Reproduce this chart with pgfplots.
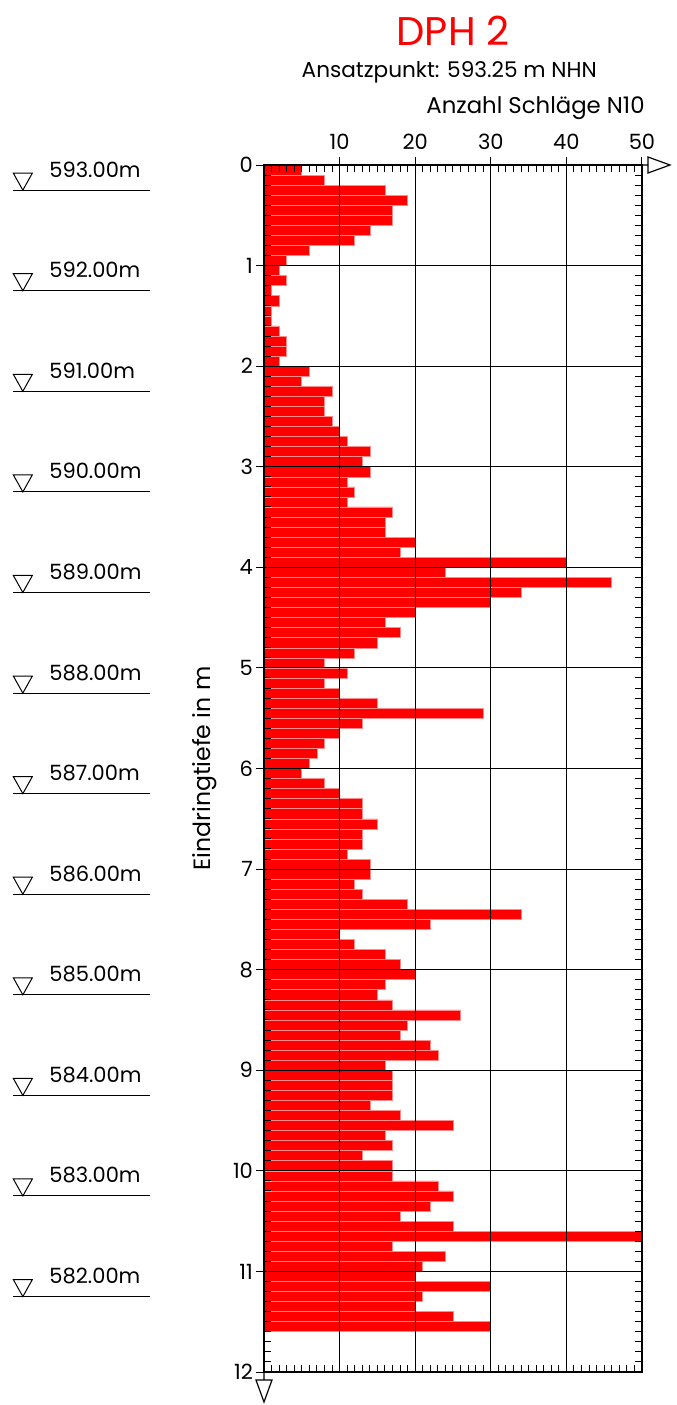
\documentclass[border=0pt]{standalone}
\usepackage{fontspec}
\setmainfont{Poppins}
\usepackage{pgfplots}
\pgfplotsset{compat=1.18}
\newcommand{\lblfont}{\fontsize{10.5}{12}\selectfont}
\newcommand{\elev}[2]{%
  \draw[black, line width=0.5pt] (axis cs:-33.16,#1) -- (axis cs:-15.08,#1);
  \draw[black, line width=0.5pt] (axis cs:-31.9,#1) -- ++(-4.75pt,8.5pt) -- ++(9.5pt,0pt) -- cycle;
  \node[anchor=base west, inner sep=0pt, font=\lblfont] at ([yshift=6.5pt]axis cs:-28.44,#1) {#2};
}
\begin{document}
\begin{tikzpicture}
\useasboundingbox (-132pt,-16.5pt) rectangle (206pt,686pt);
\begin{axis}[
  at={(0,0)}, anchor=south west,
  scale only axis, width=189pt, height=603.5pt,
  xmin=0, xmax=50, ymin=0, ymax=12, y dir=reverse,
  axis on top, clip=false,
  /pgf/number format/assume math mode=true,
  xtick={10,20,30,40,50}, ytick={0,1,...,12},
  minor xtick={0,1,...,50}, minor ytick={0,0.1,...,12},
  xticklabel pos=right,
  tick align=inside, major tick length=0pt, minor tick length=3.5pt,
  grid=major, grid style={black, line width=0.5pt},
  axis line style={black, line width=0.7pt},
  tick style={black, line width=0.5pt},
  ticklabel style={font=\lblfont},
  xticklabel style={yshift=4pt},
  yticklabel style={xshift=-2pt},
]
\addplot[xbar, bar width=0.1, fill=red, draw=red!45!white, line width=0.3pt] coordinates {
(5,0.05) (8,0.15) (16,0.25) (19,0.35) (17,0.45) (17,0.55) (14,0.65) (12,0.75) (6,0.85) (3,0.95)
(2,1.05) (3,1.15) (1,1.25) (2,1.35) (1,1.45) (1,1.55) (2,1.65) (3,1.75) (3,1.85) (2,1.95)
(6,2.05) (5,2.15) (9,2.25) (8,2.35) (8,2.45) (9,2.55) (10,2.65) (11,2.75) (14,2.85) (13,2.95)
(14,3.05) (11,3.15) (12,3.25) (11,3.35) (17,3.45) (16,3.55) (16,3.65) (20,3.75) (18,3.85) (40,3.95)
(24,4.05) (46,4.15) (34,4.25) (30,4.35) (20,4.45) (16,4.55) (18,4.65) (15,4.75) (12,4.85) (8,4.95)
(11,5.05) (8,5.15) (10,5.25) (15,5.35) (29,5.45) (13,5.55) (10,5.65) (8,5.75) (7,5.85) (6,5.95)
(5,6.05) (8,6.15) (10,6.25) (13,6.35) (13,6.45) (15,6.55) (13,6.65) (13,6.75) (11,6.85) (14,6.95)
(14,7.05) (12,7.15) (13,7.25) (19,7.35) (34,7.45) (22,7.55) (10,7.65) (12,7.75) (16,7.85) (18,7.95)
(20,8.05) (16,8.15) (15,8.25) (17,8.35) (26,8.45) (19,8.55) (18,8.65) (22,8.75) (23,8.85) (16,8.95)
(17,9.05) (17,9.15) (17,9.25) (14,9.35) (18,9.45) (25,9.55) (16,9.65) (17,9.75) (13,9.85) (17,9.95)
(17,10.05) (23,10.15) (25,10.25) (22,10.35) (18,10.45) (25,10.55) (50,10.65) (17,10.75) (24,10.85) (21,10.95)
(20,11.05) (30,11.15) (21,11.25) (20,11.35) (25,11.45) (30,11.55)
};
% arrows
\draw[black, line width=0.6pt] (axis cs:50,0) -- ++(3pt,0pt) ++(0pt,4pt) -- ++(11pt,-4pt) -- ++(-11pt,-4pt) -- cycle;
\draw[black, line width=0.6pt] (axis cs:0,12) -- ++(0pt,-4pt) ++(-4pt,0pt) -- ++(8pt,0pt) -- ++(-4pt,-11pt) -- cycle;
% titles
\node[anchor=base, inner sep=0pt, text=red, font=\fontsize{20}{24}\selectfont] at ([yshift=60pt]axis cs:25,0) {DPH 2};
\node[anchor=base, inner sep=0pt, font=\fontsize{10.8}{13}\selectfont] at ([yshift=43.8pt]axis cs:24.5,0) {Ansatzpunkt: 593.25 m NHN};
\node[anchor=base east, inner sep=0pt, font=\fontsize{11.4}{13}\selectfont] at ([yshift=26pt, xshift=1.5pt]axis cs:50,0) {Anzahl Schläge N10};
\node[rotate=90, inner sep=0pt, font=\fontsize{11.8}{14}\selectfont] at ([xshift=-29.5pt]axis cs:0,6) {Eindringtiefe in m};
% elevation markers
\elev{0.25}{593.00m}
\elev{1.25}{592.00m}
\elev{2.25}{591.00m}
\elev{3.25}{590.00m}
\elev{4.25}{589.00m}
\elev{5.25}{588.00m}
\elev{6.25}{587.00m}
\elev{7.25}{586.00m}
\elev{8.25}{585.00m}
\elev{9.25}{584.00m}
\elev{10.25}{583.00m}
\elev{11.25}{582.00m}
\end{axis}
\begin{axis}[
  at={(0,0)}, anchor=south west,
  scale only axis, width=189pt, height=603.5pt,
  xmin=0, xmax=50, ymin=0, ymax=12, y dir=reverse,
  xtick={10,20,30,40,50}, ytick={0,1,...,12},
  xtick pos=right, ytick pos=left,
  tick align=outside, major tick length=4pt,
  xticklabels={}, yticklabels={},
  axis line style={draw=none},
  tick style={black, line width=0.5pt},
]
\end{axis}
\end{tikzpicture}
\end{document}
